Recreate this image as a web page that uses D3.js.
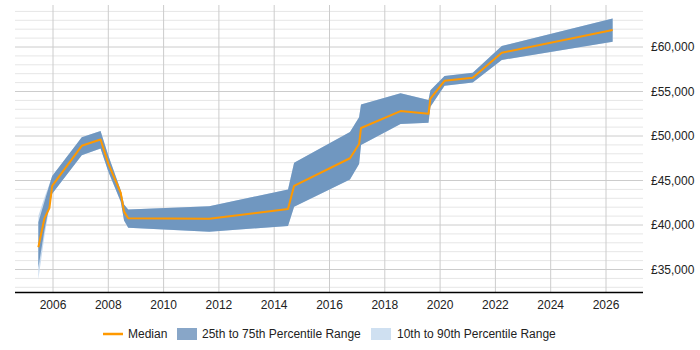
<!DOCTYPE html>
<html>
<head>
<meta charset="utf-8">
<script src="https://cdn.jsdelivr.net/npm/d3@7"></script>
<style>
  body { margin: 0; background: #fff; }
  text { font-family: "Liberation Sans", Arial, sans-serif; }
</style>
</head>
<body>
<div id="chart"></div>
<script>
// decimal years of each sample
const years = [2005.47, 2005.69, 2005.87, 2005.97, 2007.04, 2007.72, 2008.0, 2008.45, 2008.57, 2008.72,
  2011.65, 2014.5, 2014.72, 2016.74, 2017.07, 2017.14, 2018.57, 2019.58, 2019.65, 2020.16,
  2021.18, 2022.23, 2026.24];
const median = [37500, 40750, 41900, 44400, 48900, 49600, 46900, 43600, 41500, 40750,
  40700, 41800, 44400, 47500, 49100, 50900, 52800, 52500, 54200, 56200,
  56550, 59350, 61900];
const p25 = [35200, 39400, 42200, 43500, 47850, 48600, 46000, 42600, 40500, 39700,
  39250, 39900, 42050, 45100, 46850, 49000, 51350, 51500, 53300, 55650,
  56000, 58550, 60600];
const p75 = [40300, 42600, 44500, 45500, 49850, 50550, 47800, 43900, 42300, 41750,
  42100, 44000, 47000, 50450, 52100, 53550, 54800, 54050, 55150, 56750,
  57100, 60100, 63200];
const p10 = [33900, 38700, 42000, 43500, 47850, 48600, 46000, 42600, 40500, 39700,
  39250, 39900, 42050, 45100, 46850, 49000, 51350, 51500, 53300, 55650,
  56000, 58550, 60600];
const p90 = [41000, 43100, 44600, 45500, 49850, 50550, 47800, 43900, 42300, 41750,
  42100, 44000, 47000, 50450, 52100, 53550, 54800, 54050, 55150, 56750,
  57100, 60100, 63200];
const xTicks = [2006, 2008, 2010, 2012, 2014, 2016, 2018, 2020, 2022, 2024, 2026];
const yTicks = [35000, 40000, 45000, 50000, 55000, 60000];
const legendLabels = ["Median", "25th to 75th Percentile Range", "10th to 90th Percentile Range"];

const width = 700, height = 350;
const plotLeft = 15, plotRight = 643, plotBottom = 292, plotTop = 5;

const x = d3.scaleLinear().domain([2006, 2026]).range([53, 606]);
const y = d3.scaleLinear().domain([35000, 60000]).range([269.5, 47]);

const svg = d3.select('#chart').append('svg')
  .attr('width', width)
  .attr('height', height);

// minor horizontal grid
svg.append('g').selectAll('line')
  .data(d3.range(33000, 64001, 1000).filter(v => v % 5000 !== 0))
  .enter().append('line')
  .attr('x1', plotLeft).attr('x2', plotRight)
  .attr('y1', d => y(d)).attr('y2', d => y(d))
  .attr('stroke', '#e6e6e6').attr('stroke-width', 1);

// major horizontal grid
svg.append('g').selectAll('line')
  .data(yTicks)
  .enter().append('line')
  .attr('x1', plotLeft).attr('x2', plotRight)
  .attr('y1', d => y(d)).attr('y2', d => y(d))
  .attr('stroke', '#cccccc').attr('stroke-width', 1);

// vertical grid
svg.append('g').selectAll('line')
  .data(xTicks)
  .enter().append('line')
  .attr('x1', d => x(d)).attr('x2', d => x(d))
  .attr('y1', plotTop).attr('y2', plotBottom)
  .attr('stroke', '#cccccc').attr('stroke-width', 1);

const idx = d3.range(years.length);

const band = (lo, hi) => d3.area()
  .x(i => x(years[i]))
  .y0(i => y(lo[i]))
  .y1(i => y(hi[i]));

svg.append('path')
  .datum(idx)
  .attr('d', band(p10, p90))
  .attr('fill', '#c9dbee');

svg.append('path')
  .datum(idx)
  .attr('d', band(p25, p75))
  .attr('fill', '#7097c0');

svg.append('path')
  .datum(idx)
  .attr('d', d3.line().x(i => x(years[i])).y(i => y(median[i])))
  .attr('fill', 'none')
  .attr('stroke', '#ff9900')
  .attr('stroke-width', 2)
  .attr('stroke-linejoin', 'round');

// x axis
svg.append('line')
  .attr('x1', plotLeft).attr('x2', plotRight)
  .attr('y1', plotBottom + 0.5).attr('y2', plotBottom + 0.5)
  .attr('stroke', '#000').attr('stroke-width', 1.5);

svg.append('g').selectAll('text')
  .data(xTicks)
  .enter().append('text')
  .attr('x', d => x(d))
  .attr('y', 309)
  .attr('text-anchor', 'middle')
  .attr('font-size', 12)
  .attr('fill', '#222')
  .text(d => d);

// y labels on the right
svg.append('g').selectAll('text')
  .data(yTicks)
  .enter().append('text')
  .attr('x', 651)
  .attr('y', d => y(d) + 4)
  .attr('font-size', 12)
  .attr('fill', '#222')
  .text(d => '£' + d3.format(',')(d));

// legend
const lg = svg.append('g').attr('transform', 'translate(0,334)');
lg.append('line')
  .attr('x1', 103).attr('x2', 123).attr('y1', 0).attr('y2', 0)
  .attr('stroke', '#ff9900').attr('stroke-width', 2.5);
lg.append('text').attr('x', 128).attr('y', 4).attr('font-size', 12).attr('fill', '#222').text(legendLabels[0]);
lg.append('rect').attr('x', 177).attr('y', -6).attr('width', 20).attr('height', 12).attr('fill', '#88a6c8');
lg.append('text').attr('x', 202).attr('y', 4).attr('font-size', 12).attr('fill', '#222').text(legendLabels[1]);
lg.append('rect').attr('x', 371).attr('y', -6).attr('width', 20).attr('height', 12).attr('fill', '#cfe0f1');
lg.append('text').attr('x', 397).attr('y', 4).attr('font-size', 12).attr('fill', '#222').text(legendLabels[2]);
</script>
</body>
</html>
